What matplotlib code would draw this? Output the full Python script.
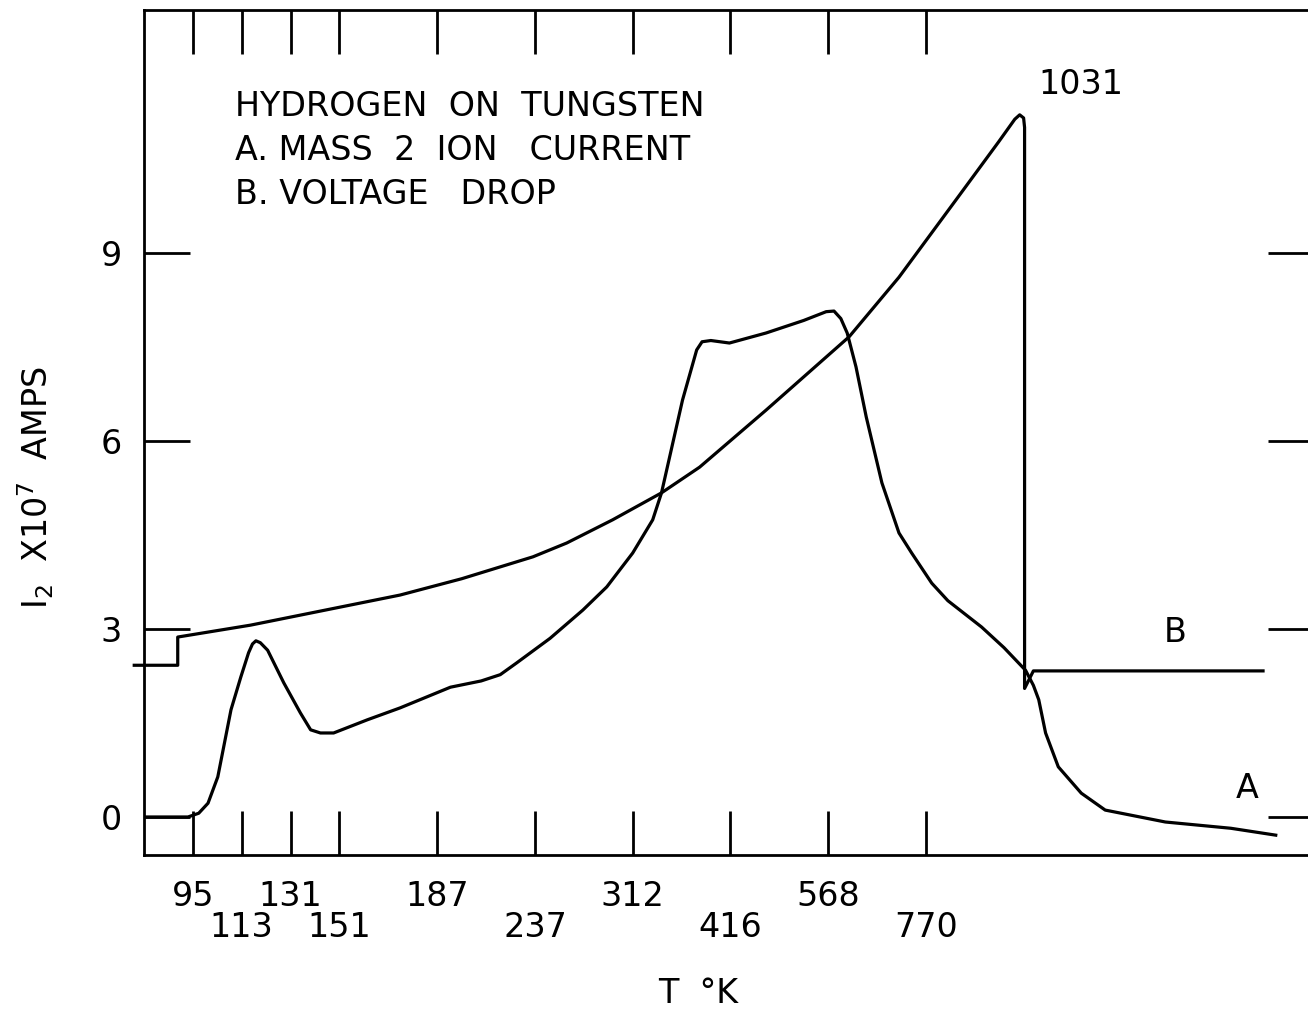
import matplotlib.pyplot as plt

# heating time (arbitrary units) at which each temperature was reached
tick_pos = [1, 2, 3, 4, 6, 8, 10, 12, 14, 16]
temp_labels = ["95", "113", "131", "151", "187", "237", "312", "416", "568", "770"]
y_ticks = [0, 3, 6, 9]

# curve A: mass 2 ion current
a_x = [0, 0.9, 1.12, 1.31, 1.51, 1.78, 1.98, 2.14, 2.22, 2.29, 2.38, 2.53, 2.86,
       3.2, 3.41, 3.61, 3.88, 4.57, 5.24, 6.27, 6.9, 7.29, 7.63, 8.31, 8.98,
       9.47, 10.0, 10.41, 10.59, 11.02, 11.31, 11.42, 11.6, 11.98, 12.73, 13.5,
       13.96, 14.12, 14.26, 14.39, 14.57, 14.78, 15.1, 15.45, 15.71, 16.12,
       16.45, 17.14, 17.6, 18.04, 18.2, 18.31, 18.45, 18.71, 19.18, 19.67,
       20.9, 22.24, 23.16]
a_y = [0, 0, 0.06, 0.22, 0.64, 1.71, 2.23, 2.62, 2.76, 2.81, 2.78, 2.66, 2.14,
       1.66, 1.39, 1.34, 1.34, 1.55, 1.74, 2.07, 2.17, 2.27, 2.46, 2.85, 3.30,
       3.67, 4.21, 4.74, 5.17, 6.65, 7.45, 7.58, 7.6, 7.56, 7.72, 7.92,
       8.06, 8.07, 7.95, 7.72, 7.18, 6.38, 5.33, 4.53, 4.21, 3.73,
       3.45, 3.03, 2.7, 2.34, 2.1, 1.87, 1.34, 0.80, 0.38, 0.11,
       -0.08, -0.18, -0.29]

# curve B: voltage drop
b_x = [-0.2, 0.69, 0.69, 2.18, 4.22, 5.24, 6.5, 7.96, 8.65, 9.59, 10.59, 11.37,
       12.73, 14.43, 15.45, 16.67, 17.49, 17.82, 17.92, 18.0, 18.02, 18.02,
       18.2, 22.9]
b_y = [2.42, 2.42, 2.87, 3.06, 3.38, 3.54, 3.8, 4.15, 4.37, 4.74, 5.17, 5.58,
       6.49, 7.66, 8.61, 9.9, 10.77, 11.13, 11.2, 11.15, 11.0, 2.05,
       2.33, 2.33]

legend_lines = ["HYDROGEN  ON  TUNGSTEN",
                "A. MASS  2  ION   CURRENT",
                "B. VOLTAGE   DROP"]


def main():
    plt.rcParams["font.family"] = "DejaVu Sans"

    fig = plt.figure(figsize=(13.08, 10.13), dpi=100)
    ax = fig.add_axes([0.1101, 0.156, 0.8899, 0.834])

    ax.plot(a_x, a_y, color="black", lw=2.3, solid_joinstyle="round")
    ax.plot(b_x, b_y, color="black", lw=2.3, solid_joinstyle="round", clip_on=False)

    ax.set_xlim(0, 23.82)
    ax.set_ylim(-0.606, 12.87)

    for side in ["left", "top", "bottom"]:
        ax.spines[side].set_linewidth(2)
    ax.spines["right"].set_visible(False)

    ax.set_xticks(tick_pos, temp_labels, fontsize=24)
    ax.tick_params(axis="x", direction="in", length=32, width=2,
                   top=True, bottom=True, pad=18)
    for t in ax.xaxis.get_major_ticks()[1::2]:
        t.set_pad(40)

    ax.set_yticks(y_ticks, [str(v) for v in y_ticks], fontsize=24)
    ax.tick_params(axis="y", direction="in", length=33, width=2,
                   left=True, right=True, pad=16)
    for t in ax.yaxis.get_major_ticks():
        t.tick2line.set_markersize(29)

    ax.set_xlabel("T  °K", fontsize=24, va="top")
    ax.xaxis.set_label_coords(0.476, -0.145)
    ax.set_ylabel(r"I$_2$  X10$^7$  AMPS", fontsize=24)
    ax.yaxis.set_label_coords(-0.076, 0.435)

    ax.text(1.86, 11.6, "\n".join(legend_lines), fontsize=24,
            ha="left", va="top", linespacing=1.43)
    ax.text(18.3, 11.68, "1031", fontsize=24, ha="left", va="center")
    ax.text(21.1, 2.94, "B", fontsize=24, ha="center", va="center")
    ax.text(22.57, 0.46, "A", fontsize=24, ha="center", va="center")

    fig.savefig("out.png", dpi=100)


if __name__ == "__main__":
    main()
